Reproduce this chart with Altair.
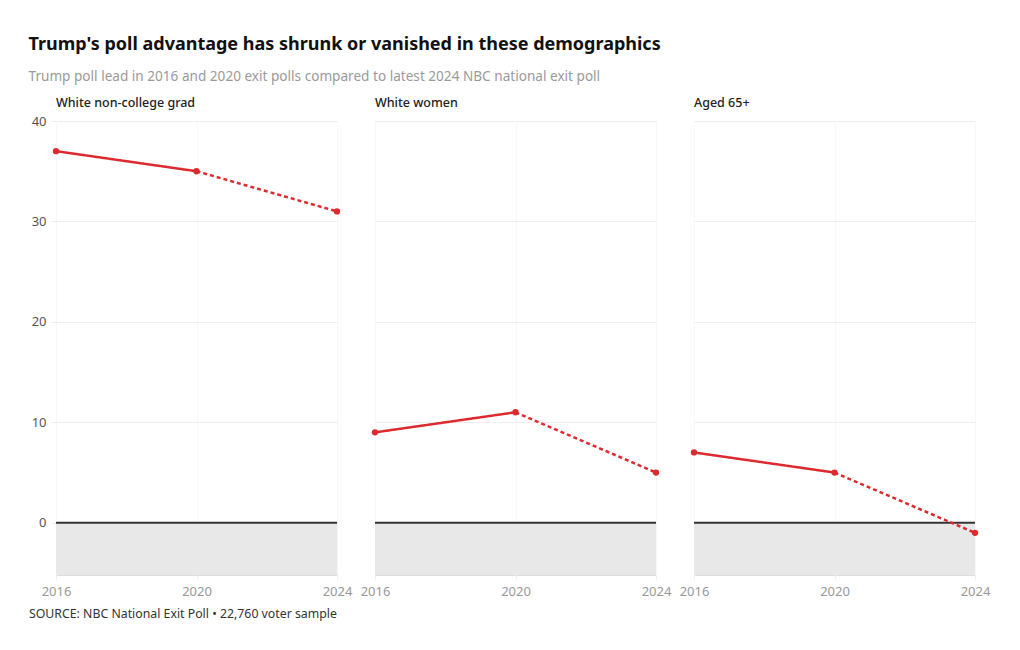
import altair as alt
import pandas as pd

groups = ["White non-college grad", "White women", "Aged 65+"]
years = [2016, 2020, 2024]
lead_white_noncollege = [37, 35, 31]
lead_white_women = [9, 11, 5]
lead_aged65 = [7, 5, -1]
series = [lead_white_noncollege, lead_white_women, lead_aged65]

FONT = "Noto Sans"
RED = "#dd2a2f"
W, H = 281, 454
YDOM = [-5.2, 40]

rows = []
for g, vals in zip(groups, series):
    # solid segment 2016-2020, dashed 2020-2024
    rows.append({"group": g, "year": years[0], "lead": vals[0], "seg": "exit poll"})
    rows.append({"group": g, "year": years[1], "lead": vals[1], "seg": "exit poll"})
    rows.append({"group": g, "year": years[1], "lead": vals[1], "seg": "latest"})
    rows.append({"group": g, "year": years[2], "lead": vals[2], "seg": "latest"})
df = pd.DataFrame(rows)
pts = pd.DataFrame([{"group": g, "year": y, "lead": v}
                    for g, vals in zip(groups, series) for y, v in zip(years, vals)])


def panel(i, g):
    first = i == 0
    xs = alt.X("year:Q", scale=alt.Scale(domain=[years[0], years[-1]], nice=False, zero=False),
               axis=alt.Axis(values=years, format="d", title=None, labelColor="#999999",
                             labelFontSize=13, labelFont=FONT, domain=False,
                             tickColor="#f0f0f0", tickSize=4, labelPadding=6,
                             grid=True, gridColor="#f8f8f8", labelFlush=False))
    ys = alt.Y("lead:Q", scale=alt.Scale(domain=YDOM, nice=False, zero=False),
               axis=alt.Axis(values=[0, 10, 20, 30, 40], title=None, domain=False,
                             labels=first, ticks=first, tickColor="#eeeeee", tickSize=5,
                             labelColor="#555555", labelFontSize=13, labelFont=FONT,
                             labelPadding=5, grid=True, gridColor="#eeeeee"))
    d = df[df.group == g]
    p = pts[pts.group == g]
    base = alt.Chart(pd.DataFrame({"v": [0]}))
    shade = base.mark_rect(color="#e8e8e8").encode(
        x=alt.value(0), x2=alt.value(W),
        y=alt.Y("v:Q", scale=alt.Scale(domain=YDOM, nice=False, zero=False)),
        y2=alt.value(H))
    zero = base.mark_rule(color="#333333", strokeWidth=2).encode(
        x=alt.value(0), x2=alt.value(W),
        y=alt.Y("v:Q", scale=alt.Scale(domain=YDOM, nice=False, zero=False)))
    lines = alt.Chart(d).mark_line(color=RED, strokeWidth=2.5).encode(
        x=xs, y=ys,
        strokeDash=alt.StrokeDash("seg:N", scale=alt.Scale(domain=["exit poll", "latest"],
                                                        range=[[1, 0], [4, 3]]), legend=None),
        detail="seg:N")
    dots = alt.Chart(p).mark_circle(color=RED, size=40, opacity=1).encode(x=xs, y=ys)
    layers = [shade, zero, lines, dots]
    if first:
        src = base.mark_text(text="SOURCE: NBC National Exit Poll \u2022 22,760 voter sample",
                             align="left", baseline="middle", font=FONT, fontSize=12.3,
                             color="#333333").encode(x=alt.value(-27), y=alt.value(H + 39))
        layers.append(src)
    return alt.layer(*layers).properties(
        width=W, height=H,
        title=alt.TitleParams(g, anchor="start", frame="group", fontSize=12.5, fontWeight=500,
                              font=FONT, color="#222222", offset=6 if first else 12))


chart = alt.hconcat(*[panel(i, g) for i, g in enumerate(groups)], spacing=38,
                    bounds="flush").properties(
    title=alt.TitleParams(
        "Trump's poll advantage has shrunk or vanished in these demographics",
        subtitle="Trump poll lead in 2016 and 2020 exit polls compared to latest 2024 NBC national exit poll",
        anchor="start", font=FONT, fontSize=18, fontWeight="bold", color="#111111",
        subtitleFont=FONT, subtitleFontSize=13.6, subtitleColor="#9a9a9a", subtitlePadding=16,
        offset=12),
    padding={"left": 20, "top": 28, "right": 10, "bottom": 10},
).configure_view(stroke=None).configure(background="white")

chart.save("out.html", embed_options={"renderer": "svg", "actions": False})
